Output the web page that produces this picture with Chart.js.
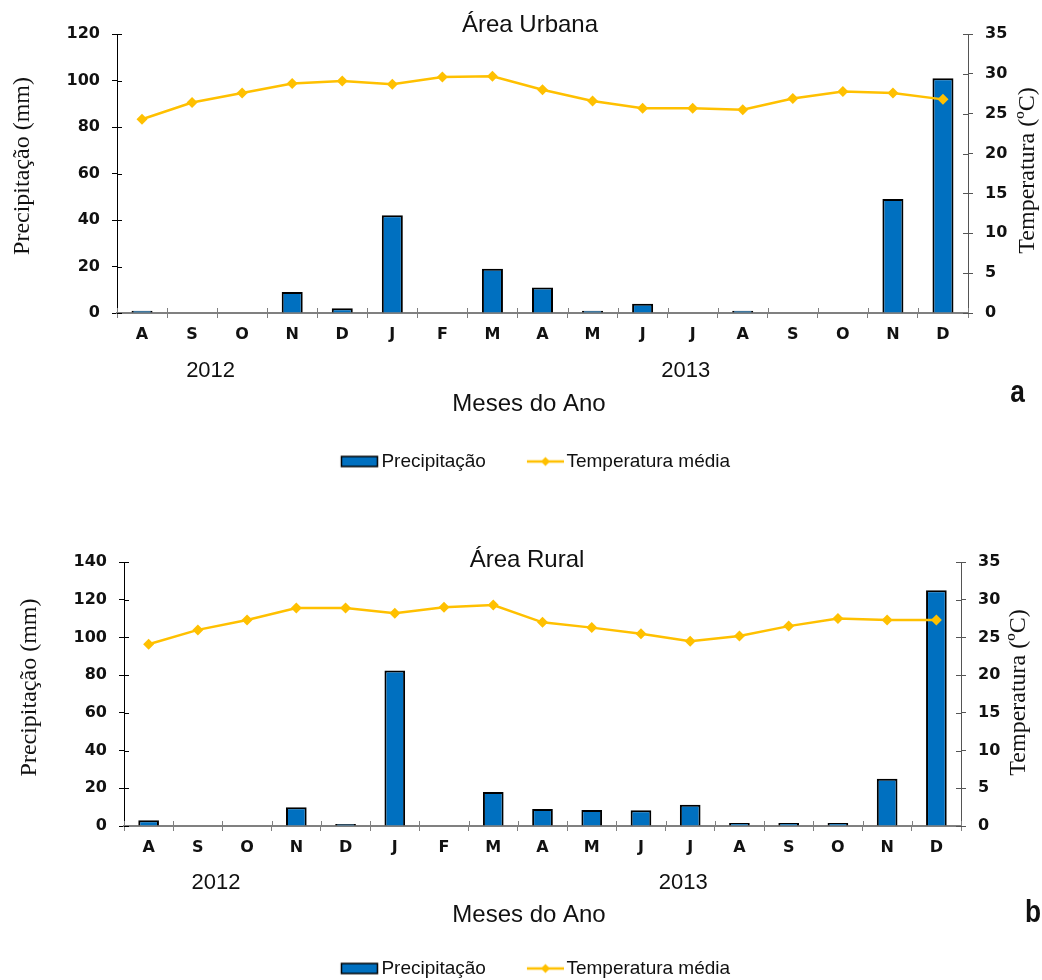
<!DOCTYPE html>
<html lang="pt">
<head>
<meta charset="utf-8">
<title>Precipitação e temperatura média</title>
<script src="https://cdn.jsdelivr.net/npm/chart.js@4.4.1/dist/chart.umd.min.js"></script>
<style>
  html, body { margin: 0; padding: 0; background: #fff; overflow: hidden; }
  body { width: 1042px; height: 980px; position: relative; }
  canvas { position: absolute; left: 0; }
  #urbana { top: 0; }
  #rural { top: 500px; }
</style>
</head>
<body>
<canvas id="urbana" width="1042" height="481"></canvas>
<canvas id="rural" width="1042" height="488"></canvas>
<script>
// months Aug/2012 .. Dec/2013
const MONTHS = ["A", "S", "O", "N", "D", "J", "F", "M", "A", "M", "J", "J", "A", "S", "O", "N", "D"];
const YEARS = ["2012", "2013"];

const urbanRain = [1, 0, 0, 9, 2, 42, 0, 19, 11, 1, 4, 0, 1, 0, 0, 49, 101];
const urbanTemp = [24.3, 26.4, 27.6, 28.8, 29.1, 28.7, 29.6, 29.7, 28.0, 26.6, 25.7, 25.7, 25.5, 26.9, 27.8, 27.6, 26.8];

const ruralRain = [3, 0, 0, 10, 1, 82.5, 0, 18, 9, 8.5, 8.3, 11.3, 1.6, 1.6, 1.6, 25, 125];
const ruralTemp = [24.1, 26.0, 27.3, 28.9, 28.9, 28.2, 29.0, 29.3, 27.0, 26.3, 25.5, 24.5, 25.2, 26.5, 27.5, 27.3, 27.3];

const BAR_COLOR = "#0070C0";
const LINE_COLOR = "#FFC000";
const SANS = '"Liberation Sans", Arial, sans-serif';
const SERIF = '"Liberation Serif", "Times New Roman", serif';
const TICK_FONT = { family: '"DejaVu Sans", Verdana, sans-serif', size: 16, weight: "bold" };

// little pictures used as legend symbols (box for bars, line+diamond for temperature)
function legendSymbol(kind) {
    const c = document.createElement("canvas");
    c.width = 50;
    c.height = 14;
    const g = c.getContext("2d");
    if (kind === "bar") {
        g.fillStyle = BAR_COLOR;
        g.fillRect(12.5, 2, 36, 10);
        g.strokeStyle = "#000";
        g.lineWidth = 1.5;
        g.strokeRect(12.5, 2, 36, 10);
    } else {
        g.strokeStyle = LINE_COLOR;
        g.lineWidth = 2.5;
        g.beginPath();
        g.moveTo(13, 7);
        g.lineTo(50, 7);
        g.stroke();
        g.fillStyle = LINE_COLOR;
        g.beginPath();
        g.moveTo(31.5, 2.5);
        g.lineTo(36, 7);
        g.lineTo(31.5, 11.5);
        g.lineTo(27, 7);
        g.closePath();
        g.fill();
    }
    return c;
}
const barSymbol = legendSymbol("bar");
const lineSymbol = legendSymbol("line");

function text(ctx, str, x, y, font, opts = {}) {
    ctx.save();
    ctx.translate(x, y);
    if (opts.rotate) ctx.rotate(opts.rotate);
    if (opts.scaleX) ctx.scale(opts.scaleX, 1);
    ctx.font = font;
    ctx.fillStyle = "#111";
    ctx.textAlign = "center";
    ctx.textBaseline = opts.baseline || "middle";
    ctx.fillText(str, 0, 0);
    ctx.restore();
}

function tick(ctx, x1, y1, x2, y2, color) {
    ctx.strokeStyle = color;
    ctx.beginPath();
    ctx.moveTo(x1, y1);
    ctx.lineTo(x2, y2);
    ctx.stroke();
}

// titles, year row, panel letter and the inner half of the tick marks
const panelText = {
    id: "panelText",
    afterDraw(chart, args, o) {
        const { ctx, chartArea: area, scales } = chart;
        ctx.save();
        ctx.lineWidth = 1;
        scales.y.ticks.forEach(t => {
            const py = Math.round(scales.y.getPixelForValue(t.value)) + 0.5;
            tick(ctx, area.left, py, area.left + 5, py, "#000");
        });
        scales.y1.ticks.forEach(t => {
            const py = Math.round(scales.y1.getPixelForValue(t.value)) + 0.5;
            tick(ctx, area.right - 5, py, area.right, py, "#555");
        });
        for (let i = 0; i <= MONTHS.length; i++) {
            const px = Math.round(scales.x.getPixelForValue(i - 0.5)) + 0.5;
            tick(ctx, px, area.bottom, px, area.bottom - 5, "#808080");
        }
        ctx.restore();

        text(ctx, o.title, o.titleX, o.titleY, "24px " + SANS);
        text(ctx, "Precipitação (mm)", o.yTitleX, o.yTitleY, "24px " + SERIF, { rotate: -Math.PI / 2 });
        text(ctx, "Temperatura (ºC)", o.y1TitleX, o.y1TitleY, "24px " + SERIF, { rotate: -Math.PI / 2 });
        YEARS.forEach((yr, i) => {
            text(ctx, yr, scales.x.getPixelForValue(o.yearAt[i]), o.yearY, "22px " + SANS);
        });
        text(ctx, "Meses do Ano", o.xTitleX, o.xTitleY, "24px " + SANS);
        text(ctx, o.letter, o.letterX, o.letterY, "bold 32px " + SANS, { scaleX: 0.82, baseline: "alphabetic" });
    }
};

function buildChart(canvas, rain, temp, rainMax, layout, texts) {
    return new Chart(canvas, {
        data: {
            labels: MONTHS,
            datasets: [
                {
                    type: "line",
                    label: "Temperatura média",
                    data: temp,
                    yAxisID: "y1",
                    borderColor: LINE_COLOR,
                    backgroundColor: LINE_COLOR,
                    borderWidth: 2.5,
                    pointStyle: "rectRot",
                    pointRadius: 5.5,
                    pointBorderWidth: 0,
                    tension: 0
                },
                {
                    type: "bar",
                    label: "Precipitação",
                    data: rain,
                    yAxisID: "y",
                    backgroundColor: BAR_COLOR,
                    borderColor: "#000",
                    borderWidth: 2,
                    categoryPercentage: 1,
                    barPercentage: 0.42
                }
            ]
        },
        options: {
            responsive: false,
            animation: false,
            events: [],
            layout: { padding: { top: layout.padTop, left: 24, right: 0, bottom: 0 } },
            plugins: {
                tooltip: { enabled: false },
                legend: {
                    position: "bottom",
                    labels: {
                        usePointStyle: true,
                        pointStyleWidth: 36,
                        padding: 35,
                        color: "#111",
                        font: { family: SANS, size: 19 },
                        sort: (a, b) => b.datasetIndex - a.datasetIndex,
                        generateLabels: chart =>
                            Chart.defaults.plugins.legend.labels.generateLabels(chart).map(item => ({
                                ...item,
                                pointStyle: item.datasetIndex === 0 ? lineSymbol : barSymbol
                            }))
                    }
                },
                panelText: texts
            },
            scales: {
                x: {
                    offset: true,
                    grid: { display: true, offset: true, drawOnChartArea: false, tickLength: 5, color: "#808080" },
                    border: { color: "#808080", width: 2 },
                    ticks: { color: "#111", font: TICK_FONT, padding: 7, maxRotation: 0, autoSkip: false },
                    afterFit: s => { s.height = layout.xHeight; }
                },
                y: {
                    position: "left",
                    min: 0,
                    max: rainMax,
                    grid: { drawOnChartArea: false, tickLength: 5, color: "#000" },
                    border: { color: "#000", width: 1 },
                    ticks: { stepSize: 20, color: "#111", font: TICK_FONT, padding: 12 },
                    afterFit: s => { s.width = layout.leftWidth; }
                },
                y1: {
                    position: "right",
                    min: 0,
                    max: 35,
                    grid: { drawOnChartArea: false, tickLength: 5, color: "#555" },
                    border: { color: "#555", width: 1 },
                    ticks: { stepSize: 5, color: "#111", font: TICK_FONT, padding: 12 },
                    afterFit: s => { s.width = layout.rightWidth; }
                }
            }
        },
        plugins: [panelText]
    });
}

buildChart(
    document.getElementById("urbana"), urbanRain, urbanTemp, 120,
    { padTop: 34, xHeight: 104, leftWidth: 93, rightWidth: 74 },
    {
        title: "Área Urbana", titleX: 530, titleY: 25,
        yTitleX: 22.5, yTitleY: 166, y1TitleX: 1027.5, y1TitleY: 170.5,
        yearAt: [1.37, 10.86], yearY: 370.5,
        xTitleX: 529, xTitleY: 404.5,
        letter: "a", letterX: 1017.5, letterY: 402
    }
);

buildChart(
    document.getElementById("rural"), ruralRain, ruralTemp, 140,
    { padTop: 62, xHeight: 98, leftWidth: 100, rightWidth: 81 },
    {
        title: "Área Rural", titleX: 527, titleY: 60,
        yTitleX: 30, yTitleY: 187.5, y1TitleX: 1018.5, y1TitleY: 192.5,
        yearAt: [1.37, 10.86], yearY: 383,
        xTitleX: 529, xTitleY: 415,
        letter: "b", letterX: 1033, letterY: 422
    }
);
</script>
</body>
</html>
